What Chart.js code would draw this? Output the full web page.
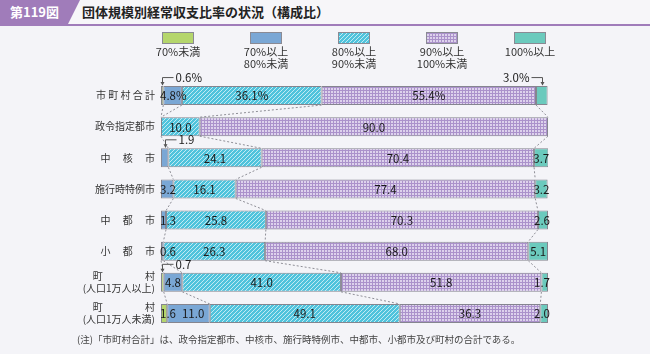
<!DOCTYPE html>
<html lang="ja">
<head>
<meta charset="utf-8">
<script src="https://cdn.jsdelivr.net/npm/chart.js@4"></script>
<style>
  html, body { margin: 0; padding: 0; background: #f4f4f8; }
  body { width: 650px; height: 354px; position: relative; overflow: hidden;
         font-family: "Noto Sans CJK JP", "Noto Sans", sans-serif; color: #333; }
  .head { position: absolute; left: 0; top: 0; width: 650px; height: 24px; background: #f7f6f9;
          border-bottom: 2px solid #a07cba; }
  .tag { position: absolute; left: 0; top: 0; width: 80px; height: 24px; background: #a07cba;
         clip-path: polygon(0 0, 80px 0, 68px 24px, 0 24px); color: #fff; font-weight: bold;
         font-size: 13px; line-height: 24px; padding-left: 10px; box-sizing: border-box; }
  .title { position: absolute; left: 82px; top: 0; line-height: 24px; font-size: 13px; font-weight: bold; color: #222; }
  .note { position: absolute; left: 77px; top: 332px; font-size: 9.5px; color: #444; }
  canvas { position: absolute; left: 0; top: 0; }
</style>
</head>
<body>
<div class="head"><div class="tag">第119図</div><div class="title">団体規模別経常収支比率の状況（構成比）</div></div>
<canvas id="chart" width="650" height="354"></canvas>
<div class="note">(注)「市町村合計」は、政令指定都市、中核市、施行時特例市、中都市、小都市及び町村の合計である。</div>
<script>
// 区分（行）
const categories = [
  "市 町 村 合 計",
  "政令指定都市",
  "中　 核　 市",
  "施行時特例市",
  "中　 都　 市",
  "小　 都　 市",
  ["町　　　　 村", "(人口1万人以上)"],
  ["町　　　　 村", "(人口1万人未満)"]
];

// 系列（経常収支比率の区分）
const seriesNames = ["70%未満", "70%以上\n80%未満", "80%以上\n90%未満", "90%以上\n100%未満", "100%以上"];
const under70  = [0.6, 0, 0, 0, 0, 0, 0.7, 1.6];
const r70to80  = [4.8, 0, 1.9, 3.2, 1.3, 0.6, 4.8, 11.0];
const r80to90  = [36.1, 10.0, 24.1, 16.1, 25.8, 26.3, 41.0, 49.1];
const r90to100 = [55.4, 90.0, 70.4, 77.4, 70.3, 68.0, 51.8, 36.3];
const over100  = [3.0, 0, 3.7, 3.2, 2.6, 5.1, 1.7, 2.0];

// 小さい値は引き出し線で表示
const callouts = [
  { row: 0, series: 0, text: "0.6%", side: "left" },
  { row: 0, series: 4, text: "3.0%", side: "right" },
  { row: 2, series: 1, text: "1.9", side: "left" },
  { row: 6, series: 0, text: "0.7", side: "left" }
];

// パターン作成
function makePattern(size, draw) {
  const c = document.createElement("canvas");
  c.width = size; c.height = size;
  draw(c.getContext("2d"));
  return c.getContext("2d").createPattern(c, "repeat");
}
const hatch = makePattern(4, g => {
  g.fillStyle = "#4fc3dc"; g.fillRect(0, 0, 4, 4);
  g.strokeStyle = "rgba(255,255,255,0.65)"; g.lineWidth = 1;
  g.beginPath(); g.moveTo(-1, 5); g.lineTo(5, -1); g.stroke();
  g.beginPath(); g.moveTo(-1, 1); g.lineTo(1, -1); g.stroke();
  g.beginPath(); g.moveTo(3, 5); g.lineTo(5, 3); g.stroke();
});
const grid = makePattern(3, g => {
  g.fillStyle = "#ddd2ec"; g.fillRect(0, 0, 3, 3);
  g.fillStyle = "#ab92cb"; g.fillRect(0, 0, 3, 1); g.fillRect(0, 0, 1, 3);
});
const colors = ["#b5d66c", "#7aa7d5", hatch, grid, "#6bcabd"];
const values = [under70, r70to80, r80to90, r90to100, over100];

const ctx = document.getElementById("chart");

// 凡例（ボックスの下に文字）
const legendPlugin = {
  id: "legendBelow",
  afterDraw(chart) {
    const g = chart.ctx;
    g.save();
    chart.data.datasets.forEach((ds, i) => {
      const cx = 178 + i * 88;
      g.fillStyle = ds.backgroundColor;
      g.fillRect(cx - 15.5, 32, 31, 11);
      g.strokeStyle = "#8a8a94"; g.lineWidth = 1;
      g.strokeRect(cx - 15.5, 32.5, 31, 11);
      g.fillStyle = "#333"; g.font = "11px 'Noto Sans CJK JP'";
      g.textAlign = "center"; g.textBaseline = "middle";
      ds.label.split("\n").forEach((t, k) => g.fillText(t, cx, 52 + k * 11.5));
    });
    g.restore();
  }
};

// 行間の点線
const connectorPlugin = {
  id: "connectors",
  beforeDatasetsDraw(chart) {
    const g = chart.ctx, x = chart.scales.x;
    const metas = chart.data.datasets.map((d, i) => chart.getDatasetMeta(i));
    g.save();
    g.strokeStyle = "#8e8e96"; g.lineWidth = 1; g.setLineDash([2, 2]);
    for (let r = 0; r < categories.length - 1; r++) {
      let a = 0, b = 0;
      for (let s = 0; s < values.length - 1; s++) {
        a += values[s][r]; b += values[s][r + 1];
        if ((a === 0 && b === 0) || (a >= 99.9 && b >= 99.9)) continue;
        const e1 = metas[s].data[r], e2 = metas[s].data[r + 1];
        const y1 = e1.y + e1.height / 2, y2 = e2.y - e2.height / 2;
        g.beginPath();
        g.moveTo(x.getPixelForValue(Math.min(a, 100)), y1);
        g.lineTo(x.getPixelForValue(Math.min(b, 100)), y2);
        g.stroke();
      }
    }
    g.restore();
  }
};

// 数値ラベルと引き出し線
const labelPlugin = {
  id: "valueLabels",
  afterDatasetsDraw(chart) {
    const g = chart.ctx, area = chart.chartArea;
    const n = chart.data.datasets.length;
    g.save();
    g.font = "11.5px 'Noto Sans CJK JP'";
    g.fillStyle = "#1a1a1a"; g.textBaseline = "middle"; g.textAlign = "center";
    categories.forEach((cat, r) => {
      let prevRight = -Infinity;
      for (let s = 0; s < n; s++) {
        const v = chart.data.datasets[s].data[r];
        if (!v) continue;
        if (callouts.some(c => c.row === r && c.series === s)) continue;
        const el = chart.getDatasetMeta(s).data[r];
        const txt = r === 0 ? v.toFixed(1) + "%" : v.toFixed(1);
        const w = g.measureText(txt).width;
        let cx = (el.x + el.base) / 2;
        cx = Math.max(cx, area.left - 1 + w / 2, prevRight + 6 + w / 2);
        cx = Math.min(cx, area.right + 2 - w / 2);
        g.fillText(txt, cx, el.y + 0.5);
        prevRight = cx + w / 2;
      }
    });
    g.strokeStyle = "#555"; g.lineWidth = 1;
    callouts.forEach(c => {
      const el = chart.getDatasetMeta(c.series).data[c.row];
      const px = Math.round((el.x + el.base) / 2) + 0.5;
      const top = el.y - el.height / 2;
      const ly = top - 8.5;
      const dir = c.side === "left" ? 1 : -1;
      g.beginPath();
      g.moveTo(px + dir * 11, ly); g.lineTo(px, ly); g.lineTo(px, top - 1);
      g.stroke();
      g.beginPath();
      g.moveTo(px - 2, top - 4); g.lineTo(px + 2, top - 4); g.lineTo(px, top - 0.5);
      g.closePath(); g.fillStyle = "#555"; g.fill();
      g.fillStyle = "#1a1a1a";
      g.textAlign = c.side === "left" ? "left" : "right";
      g.fillText(c.text, px + dir * 13, ly);
    });
    g.restore();
  }
};

new Chart(ctx, {
  type: "bar",
  data: {
    labels: categories,
    datasets: values.map((vals, i) => ({
      label: seriesNames[i],
      data: vals,
      backgroundColor: colors[i],
      borderColor: "#85858f",
      borderWidth: c => (c.raw > 0 ? 1 : 0),
      borderSkipped: false,
      barPercentage: 0.61,
      categoryPercentage: 1
    }))
  },
  options: {
    indexAxis: "y",
    responsive: false,
    animation: false,
    devicePixelRatio: 1,
    layout: { padding: { top: 80, bottom: 25, left: 0, right: 102 } },
    plugins: { legend: { display: false }, tooltip: { enabled: false } },
    scales: {
      x: { stacked: true, min: 0, max: 100, display: false },
      y: {
        stacked: true,
        grid: { display: false, drawTicks: false },
        border: { display: false },
        ticks: { color: "#333", padding: 6, font: { size: 10, family: "'Noto Sans CJK JP'", lineHeight: 1.25 } },
        afterFit(scale) { scale.width = 161; }
      }
    }
  },
  plugins: [connectorPlugin, labelPlugin, legendPlugin]
});
</script>
</body>
</html>
